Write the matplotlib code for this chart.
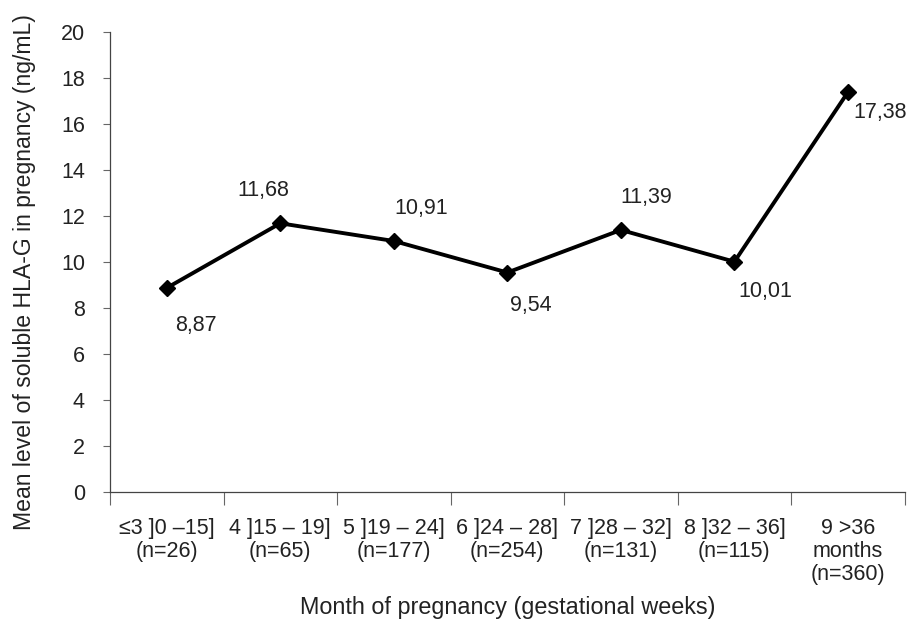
import numpy as np
import matplotlib
matplotlib.use("Agg")
import matplotlib.pyplot as plt

plt.rcParams['font.family'] = ['Liberation Sans', 'DejaVu Sans']

# data
categories = ["≤3 ]0 –15]\n(n=26)", "4 ]15 – 19]\n(n=65)", "5 ]19 – 24]\n(n=177)",
              "6 ]24 – 28]\n(n=254)", "7 ]28 – 32]\n(n=131)", "8 ]32 – 36]\n(n=115)",
              "9 >36\nmonths\n(n=360)"]
values = [8.87, 11.68, 10.91, 9.54, 11.39, 10.01, 17.38]
value_labels = ["8,87", "11,68", "10,91", "9,54", "11,39", "10,01", "17,38"]
# label offsets in pixels (dx, dy)
offsets = [(29, -38), (-17, 33), (27, 33), (23, -33), (25, 32), (31, -30), (32, -20)]

fs = 15.5

fig = plt.figure(figsize=(9.12, 6.25), dpi=100)
ax = fig.add_axes([0.1206, 0.2128, 0.8714, 0.7362])

x = np.arange(len(values))
ax.plot(x, values, color="black", lw=2.8, marker="D", markersize=8)

for xi, v, lab, (dx, dy) in zip(x, values, value_labels, offsets):
    ax.annotate(lab, (xi, v), xytext=(dx * 0.72, dy * 0.72), textcoords="offset points",
                ha="center", va="center", fontsize=fs, color="#222222")

ax.set_xlim(-0.5, len(values) - 0.5)
ax.set_ylim(0, 20)
ax.set_yticks(np.arange(0, 21, 2))
ax.set_xticks(x)
ax.set_xticklabels(categories, fontsize=fs, color="#222222", linespacing=1.1)
ax.set_xticks(np.arange(-0.5, len(values), 1), minor=True)
ax.tick_params(axis="x", which="major", length=0, pad=19)
ax.tick_params(axis="x", which="minor", length=9, width=0.8, color="#666666")
ax.tick_params(axis="y", length=5, width=0.8, color="#666666", labelsize=fs,
               labelcolor="#222222", pad=13)

for s in ["top", "right"]:
    ax.spines[s].set_visible(False)
for s in ["left", "bottom"]:
    ax.spines[s].set_color("#444444")
    ax.spines[s].set_linewidth(0.9)

ax.set_ylabel("Mean level of soluble HLA-G in pregnancy (ng/mL)", fontsize=16.6,
              color="#222222", va="center")
ax.yaxis.set_label_coords(-0.107, 0.478)
ax.set_xlabel("Month of pregnancy (gestational weeks)", fontsize=16.8,
              color="#222222", va="center")
ax.xaxis.set_label_coords(0.5, -0.252)

fig.savefig("out.png", dpi=100)
